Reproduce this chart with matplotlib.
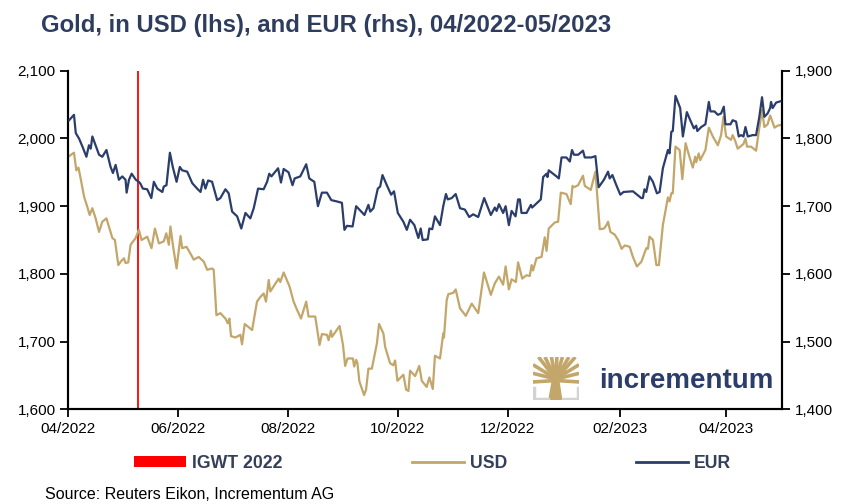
import numpy as np
import pandas as pd
import matplotlib
matplotlib.use("Agg")
import matplotlib.pyplot as plt
import matplotlib.dates as mdates
from matplotlib.ticker import FuncFormatter
from matplotlib.lines import Line2D
from matplotlib.patches import Patch, Polygon

plt.rcParams['font.family'] = ['Liberation Sans', 'DejaVu Sans']

START = pd.Timestamp('2022-04-01')

# days since 01/04/2022 and gold price in USD
usd_day = [0.6, 3.3, 4.6, 5.8, 7.0, 8.9, 10.7, 12.0, 13.5, 15.3, 17.2, 19.0, 21.3, 24.6, 26.0, 27.9,
           29.2, 31.0, 31.9, 33.4, 34.7, 37.5, 39.3, 40.8, 43.9, 46.3, 48.2, 50.4, 53.1, 54.5, 55.9,
           56.8, 58.3, 60.2, 62.4, 63.3, 65.7, 67.9, 69.7, 72.5, 75.3, 77.2, 79.9, 80.8, 82.3, 84.5,
           87.3, 88.6, 89.5, 90.4, 92.8, 95.6, 96.5, 98.0, 102.1, 104.8, 106.7, 108.5, 109.8, 111.3,
           112.2, 116.8, 117.7, 119.6, 122.9, 125.1, 127.0, 129.2, 132.1, 133.4, 137.1, 139.5, 140.8,
           143.6, 144.5, 145.8, 146.4, 150.6, 152.5, 153.7, 155.0, 158.0, 158.7, 159.8, 160.5, 161.6,
           164.2, 165.3, 166.6, 168.5, 171.3, 172.5, 174.9, 175.9, 178.6, 180.4, 181.4, 182.7, 186.0,
           187.5, 188.8, 189.7, 192.5, 194.8, 196.2, 198.9, 200.4, 202.3, 203.5, 206.3, 208.1, 208.5,
           210.0, 210.9, 213.7, 215.0, 217.4, 220.6, 223.9, 227.5, 230.7, 234.5, 236.7, 239.0, 241.3,
           242.7, 244.5, 246.0, 248.4, 249.6, 251.9, 254.3, 256.1, 257.1, 257.9, 259.8, 262.6, 264.4,
           265.4, 266.6, 270.0, 271.8, 273.3, 276.4, 278.8, 279.8, 280.6, 282.9, 285.6, 286.6, 289.9,
           292.5, 294.9, 297.3, 298.6, 299.5, 300.8, 303.2, 305.1, 307.0, 308.8, 311.5, 313.3, 315.5,
           318.0, 320.7, 321.6, 322.5, 324.4, 325.3, 326.3, 327.7, 329.9, 332.7, 333.6, 334.6, 335.4,
           336.9, 339.2, 340.7, 342.5, 344.3, 346.5, 347.8, 348.4, 349.8, 350.6, 353.5, 355.4, 357.6,
           360.4, 362.2, 363.5, 365.0, 367.7, 368.6, 370.1, 371.4, 373.3, 374.6, 375.7, 376.6, 378.8,
           381.6, 383.4, 384.9, 386.2, 388.0, 389.4, 390.5, 391.8, 393.6, 395.5]
usd = [1974, 1979, 1953, 1957, 1941, 1914, 1899, 1887, 1897, 1882, 1862, 1877, 1882, 1853, 1850, 1813,
       1818, 1823, 1816, 1817, 1843, 1853, 1865, 1850, 1855, 1838, 1867, 1845, 1848, 1860, 1843,
       1870, 1840, 1808, 1856, 1838, 1840, 1830, 1821, 1825, 1818, 1806, 1808, 1806, 1739, 1742,
       1734, 1727, 1734, 1708, 1706, 1710, 1696, 1726, 1717, 1759, 1766, 1771, 1759, 1791,
       1774, 1793, 1788, 1802, 1781, 1759, 1747, 1734, 1759, 1737, 1737, 1695, 1711,
       1710, 1702, 1716, 1707, 1723, 1695, 1664, 1675, 1675, 1663, 1673, 1668, 1641,
       1621, 1629, 1660, 1660, 1697, 1726, 1712, 1692, 1668, 1665, 1672, 1642, 1651,
       1629, 1627, 1657, 1649, 1664, 1642, 1633, 1647, 1630, 1679, 1675, 1712, 1706,
       1761, 1770, 1772, 1777, 1749, 1738, 1756, 1742, 1802, 1769, 1786, 1796, 1784,
       1811, 1777, 1792, 1788, 1817, 1793, 1798, 1797, 1813, 1805, 1823, 1825, 1854,
       1834, 1867, 1876, 1877, 1920, 1918, 1903, 1930, 1928, 1931, 1945, 1930, 1924,
       1951, 1866, 1867, 1872, 1877, 1862, 1858, 1850, 1837, 1842, 1840, 1825, 1811,
       1818, 1838, 1837, 1855, 1850, 1833, 1813, 1813, 1872, 1913, 1907, 1919, 1919,
       1988, 1983, 1940, 1993, 1976, 1957, 1973, 1965, 1978, 1968, 1983, 2016, 2003,
       1990, 2005, 2032, 2003, 1998, 2005, 1996, 1985, 1989, 1992, 2000, 1988, 1988,
       1982, 2016, 2042, 2017, 2021, 2034, 2026, 2016, 2019, 2020]

# days since 01/04/2022 and gold price in EUR
eur_day = [0.6, 3.3, 4.3, 6.1, 8.0, 10.2, 11.6, 12.6, 13.5, 15.3, 17.2, 19.0, 21.3, 23.6, 24.9, 26.4,
           28.2, 30.1, 31.9, 32.5, 33.8, 35.3, 37.6, 39.3, 40.2, 41.5, 43.9, 46.2, 47.6, 49.5, 52.3,
           53.1, 54.6, 56.5, 58.1, 60.2, 62.0, 63.3, 66.1, 68.9, 71.6, 73.5, 74.9, 76.2, 77.7, 79.9,
           82.7, 84.5, 87.3, 89.1, 91.0, 93.8, 96.1, 98.4, 101.1, 103.0, 105.4, 108.5, 110.4, 111.6,
           112.8, 116.5, 118.1, 119.6, 122.3, 124.5, 125.7, 128.8, 132.1, 133.8, 136.6, 138.6, 140.8,
           143.6, 146.0, 149.1, 151.9, 153.3, 154.7, 157.8, 159.8, 164.4, 166.6, 167.6, 169.4, 171.8,
           173.1, 174.4, 176.8, 179.2, 180.8, 182.9, 186.0, 187.9, 189.7, 192.1, 194.3, 195.6, 196.7,
           199.5, 200.4, 202.0, 203.5, 206.3, 208.1, 209.6, 210.6, 212.8, 215.0, 217.4, 220.1, 222.5,
           224.7, 227.5, 230.8, 234.5, 236.7, 237.7, 239.0, 241.3, 242.7, 244.5, 246.0, 248.2, 249.6,
           250.6, 251.5, 254.3, 256.7, 257.4, 262.2, 263.5, 265.4, 265.9, 266.6, 270.9, 272.2, 273.7,
           276.4, 278.3, 279.5, 280.6, 282.9, 285.6, 286.6, 290.3, 292.5, 294.3, 297.2, 299.5, 300.4,
           301.9, 304.1, 306.3, 308.1, 313.3, 317.9, 318.8, 319.7, 320.7, 322.5, 324.4, 326.6, 328.1,
           329.9, 332.7, 333.6, 334.6, 335.4, 336.9, 339.5, 341.0, 343.2, 345.1, 347.1, 348.4, 349.0,
           351.2, 353.5, 355.4, 356.3, 358.5, 360.4, 362.2, 363.7, 364.6, 367.4, 368.6, 370.5, 372.0,
           373.3, 374.6, 375.7, 377.0, 379.7, 381.6, 383.4, 384.9, 386.2, 388.0, 389.4, 389.9, 390.8,
           392.7, 395.1]
eur = [1827, 1835, 1808, 1800, 1788, 1773, 1790, 1785, 1803, 1790, 1776, 1773, 1783, 1758, 1749, 1761,
       1739, 1744, 1739, 1720, 1739, 1748, 1739, 1736, 1733, 1726, 1725, 1712, 1736, 1726, 1721,
       1729, 1731, 1779, 1758, 1736, 1758, 1753, 1751, 1734, 1726, 1721, 1739, 1726, 1738, 1736,
       1709, 1712, 1725, 1719, 1692, 1685, 1667, 1690, 1682, 1697, 1726, 1725, 1736, 1748,
       1744, 1756, 1735, 1755, 1750, 1731, 1741, 1744, 1762, 1741, 1736, 1700, 1720,
       1720, 1709, 1707, 1705, 1665, 1671, 1670, 1700, 1687, 1702, 1692, 1697, 1726,
       1729, 1746, 1731, 1717, 1722, 1690, 1677, 1665, 1680, 1672, 1653, 1667, 1650,
       1651, 1667, 1666, 1685, 1672, 1700, 1718, 1710, 1712, 1718, 1697, 1695, 1684,
       1688, 1684, 1712, 1687, 1698, 1693, 1703, 1690, 1700, 1672, 1693, 1685, 1710,
       1710, 1690, 1690, 1702, 1698, 1710, 1743, 1748, 1743, 1753, 1744, 1741, 1772,
       1772, 1766, 1783, 1776, 1776, 1782, 1772, 1772, 1774, 1728, 1739, 1751, 1741,
       1746, 1731, 1717, 1721, 1722, 1712, 1712, 1725, 1721, 1744, 1736, 1719, 1721,
       1756, 1783, 1778, 1810, 1811, 1863, 1845, 1803, 1839, 1827, 1815, 1819, 1811,
       1817, 1821, 1854, 1840, 1840, 1835, 1837, 1847, 1821, 1821, 1827, 1825, 1803,
       1805, 1803, 1817, 1803, 1805, 1805, 1832, 1861, 1832, 1837, 1845, 1854, 1845,
       1853, 1855]

igwt_date = pd.Timestamp('2022-05-10')

usd_dates = START + pd.to_timedelta(usd_day, unit='D')
eur_dates = START + pd.to_timedelta(eur_day, unit='D')

GOLD = '#C2A66A'
NAVY = '#2B3E6B'
TXT = '#34405A'

fig = plt.figure(figsize=(8.45, 5.04), dpi=100)
ax = fig.add_axes([0.0805, 0.188, 0.845, 0.6715])
ax2 = ax.twinx()

ax.plot(usd_dates, usd, color=GOLD, lw=1.6, zorder=3)
ax2.plot(eur_dates, eur, color=NAVY, lw=1.6, zorder=3)
ax.axvline(igwt_date, color='#FF0000', lw=1.3, zorder=2)

ax.set_ylim(1600, 2100)
ax2.set_ylim(1400, 1900)
ax.set_yticks(np.arange(1600, 2101, 100))
ax2.set_yticks(np.arange(1400, 1901, 100))
fmt = FuncFormatter(lambda v, p: f'{int(v):,}')
ax.yaxis.set_major_formatter(fmt)
ax2.yaxis.set_major_formatter(fmt)

ax.set_xlim(START, pd.Timestamp('2023-05-02'))
ax.xaxis.set_major_locator(mdates.MonthLocator(bymonth=[2, 4, 6, 8, 10, 12]))
ax.xaxis.set_major_formatter(mdates.DateFormatter('%m/%Y'))

for a in (ax, ax2):
    a.spines['top'].set_visible(False)
    for s in ('left', 'right', 'bottom'):
        a.spines[s].set_linewidth(1.5)
    a.tick_params(axis='both', labelsize=11, width=1.3, length=6, direction='out', pad=3)
ax.patch.set_visible(False)

fig.text(0.049, 0.937, 'Gold, in USD (lhs), and EUR (rhs), 04/2022-05/2023',
         fontsize=17.2, fontweight='bold', color='#2E3D5E', va='baseline', ha='left')

handles = [Patch(facecolor='#FF0000', edgecolor='none'),
           Line2D([], [], color=GOLD, lw=2),
           Line2D([], [], color=NAVY, lw=2)]
leg = fig.legend(handles, ['IGWT 2022', 'USD', 'EUR'], loc='center', ncol=3,
                 bbox_to_anchor=(0.512, 0.081), frameon=False, handlelength=2.95,
                 handleheight=0.55, handletextpad=0.34, columnspacing=7.32,
                 prop={'size': 12.7, 'weight': 'bold'})
for t in leg.get_texts():
    t.set_color(TXT)

fig.text(0.053, 0.009, 'Source: Reuters Eikon, Incrementum AG', fontsize=11.5, color='black',
         ha='left', va='baseline')

# incrementum logo
fig.text(0.709, 0.231, 'incrementum', fontsize=20, fontweight='bold', color=NAVY,
         ha='left', va='baseline')
lax = fig.add_axes([533 / 845, 1 - 400 / 504, 46 / 845, 43 / 504])
lax.set_xlim(0, 1)
lax.set_ylim(0, 1)
lax.axis('off')
lax.add_patch(Polygon([[0.33, 0.0], [0.64, 0.0], [0.58, 0.42], [0.52, 0.55], [0.46, 0.55],
                       [0.40, 0.42]], closed=True, facecolor=GOLD, edgecolor='none'))
for x0, y0, x1, y1 in [(0.45, 0.45, 0.0, 0.42), (0.45, 0.50, 0.0, 0.62), (0.46, 0.52, 0.0, 0.82),
                       (0.47, 0.52, 0.12, 1.0), (0.48, 0.52, 0.26, 1.0), (0.49, 0.52, 0.40, 1.0),
                       (0.50, 0.52, 0.52, 1.0), (0.51, 0.52, 0.64, 1.0), (0.52, 0.52, 0.78, 1.0),
                       (0.53, 0.52, 0.92, 1.0), (0.54, 0.52, 1.0, 0.82), (0.55, 0.50, 1.0, 0.62),
                       (0.55, 0.45, 1.0, 0.42)]:
    lax.plot([x0, x1], [y0, y1], color=GOLD, lw=2.6, solid_capstyle='butt')
lax.plot([0.02, 0.02, 0.32], [0.28, 0.03, 0.03], color='#D3D3D3', lw=2.5)
lax.plot([0.66, 0.98, 0.98], [0.03, 0.03, 0.28], color='#D3D3D3', lw=2.5)

fig.savefig('out.png', dpi=100)
